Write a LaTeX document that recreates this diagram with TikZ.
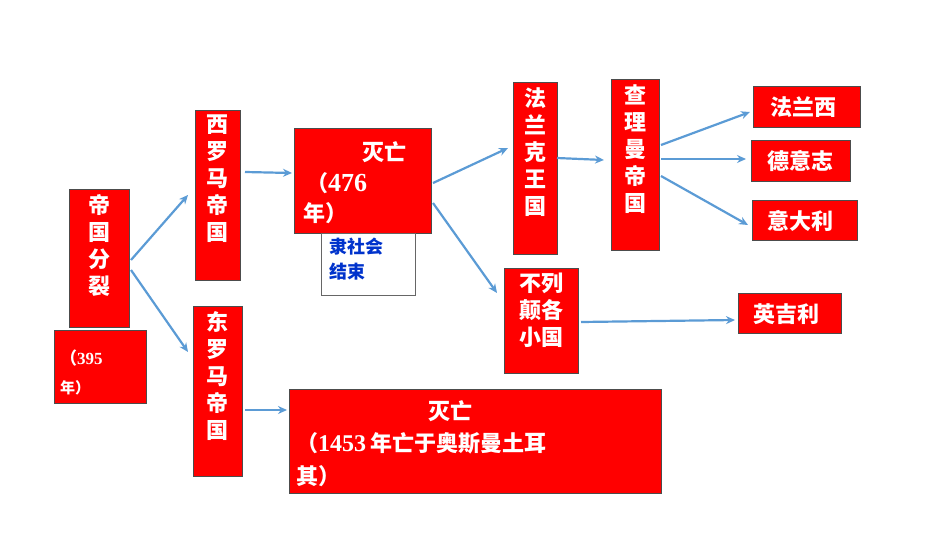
\documentclass[tikz,border=0pt]{standalone}
\usepackage{fontspec}
\newfontfamily\cjk{Noto Sans CJK SC}
\newfontfamily\numf{Liberation Serif}
\usetikzlibrary{arrows.meta}
\definecolor{rb}{RGB}{255,0,0}
\definecolor{ab}{RGB}{91,155,213}
\definecolor{tb}{RGB}{0,51,204}
\tikzset{
 box/.style={draw=black!70,line width=0.8pt,fill=rb},
 wt/.style={text=white,font=\cjk\bfseries\fontsize{22}{27}\selectfont,inner sep=0pt,align=center},
 arr/.style={draw=ab,line width=2.2pt,-{Stealth[length=9pt,width=8pt]}}
}
\begin{document}
\begin{tikzpicture}[x=1pt,y=-1pt]
\useasboundingbox (0,0) rectangle (950,535);
% boxes
\draw[box] (69,189) rectangle (129,327);
\node[wt,anchor=north] (a) at (99,194) {帝\\国\\分\\裂};
\draw[box] (54,330) rectangle (146,403);
\node[anchor=west,text=white,inner sep=0pt,font=\numf\bfseries\fontsize{17}{20}\selectfont] (a2) at (60,358) {\cjk （\numf 395};
\node[anchor=west,text=white,inner sep=0pt,font=\cjk\bfseries\fontsize{15}{18}\selectfont] (a3) at (60,388) {年）};
\draw[box] (195,110) rectangle (240,280);
\node[wt,anchor=north] (w) at (217.5,115) {西\\罗\\马\\帝\\国};
\draw[box] (193,306) rectangle (242,476);
\node[wt,anchor=north] (e) at (217.5,311) {东\\罗\\马\\帝\\国};
\draw[box] (294,128) rectangle (431,233);
\node[wt,anchor=west] (m1) at (362,152) {灭亡};
\node[anchor=west,text=white,inner sep=0pt,font=\numf\bfseries\fontsize{26}{30}\selectfont] (m2) at (306,183) {\cjk\fontsize{22}{26}\selectfont （\numf\fontsize{26}{30}\selectfont 476};
\node[wt,anchor=west] (m3) at (303,213) {年）};
\draw[draw=black!60,line width=0.8pt,fill=white] (321,233) rectangle (415,295);
\node[anchor=north west,text=tb,inner sep=0pt,align=left,font=\cjk\bfseries\fontsize{18}{25}\selectfont] (s) at (329,238) {隶社会\\结束};
\draw[box] (513,82) rectangle (557,254);
\node[wt,anchor=north] (f) at (535,87) {法\\兰\\克\\王\\国};
\draw[box] (504,268) rectangle (578,373);
\node[wt,anchor=north] (b) at (541,273) {不列\\颠各\\小国};
\draw[box] (611,79) rectangle (659,250);
\node[wt,anchor=north] (c) at (635,84) {查\\理\\曼\\帝\\国};
\draw[box] (753,86) rectangle (860,127);
\node[wt] (fr) at (803,107) {法兰西};
\draw[box] (751,140) rectangle (850,181);
\node[wt] (de) at (800,161) {德意志};
\draw[box] (752,200) rectangle (857,240);
\node[wt] (it) at (800,221) {意大利};
\draw[box] (738,293) rectangle (841,333);
\node[wt] (en) at (786,314) {英吉利};
\draw[box] (289,389) rectangle (661,493);
\node[wt,anchor=west] (d1) at (428,411) {灭亡};
\node[anchor=west,text=white,inner sep=0pt,font=\numf\bfseries\fontsize{24}{28}\selectfont] (d2) at (296,443) {\cjk\fontsize{22}{26}\selectfont （\numf\fontsize{24}{28}\selectfont 1453\,\cjk\fontsize{22}{26}\selectfont 年亡于奥斯曼土耳};
\node[wt,anchor=west] (d3) at (296,476) {其）};
% arrow coordinates
\coordinate (p1) at (131,260); \coordinate (q1) at (188,195);
\coordinate (p2) at (131,270); \coordinate (q2) at (188,352);
\coordinate (p3) at (245,172); \coordinate (q3) at (292,173);
\coordinate (p4) at (245,410); \coordinate (q4) at (287,410);
\coordinate (p5) at (433,183); \coordinate (q5) at (508,148);
\coordinate (p6) at (433,203); \coordinate (q6) at (497,293);
\coordinate (p7) at (557,158); \coordinate (q7) at (604,160);
\coordinate (p8) at (661,145); \coordinate (q8) at (750,112);
\coordinate (p9) at (661,159); \coordinate (q9) at (746,159);
\coordinate (p10) at (661,176); \coordinate (q10) at (748,225);
\coordinate (p11) at (581,322); \coordinate (q11) at (735,320);
\foreach \i in {1,...,11} {\draw[arr] (p\i) -- (q\i);}
\end{tikzpicture}
\end{document}
